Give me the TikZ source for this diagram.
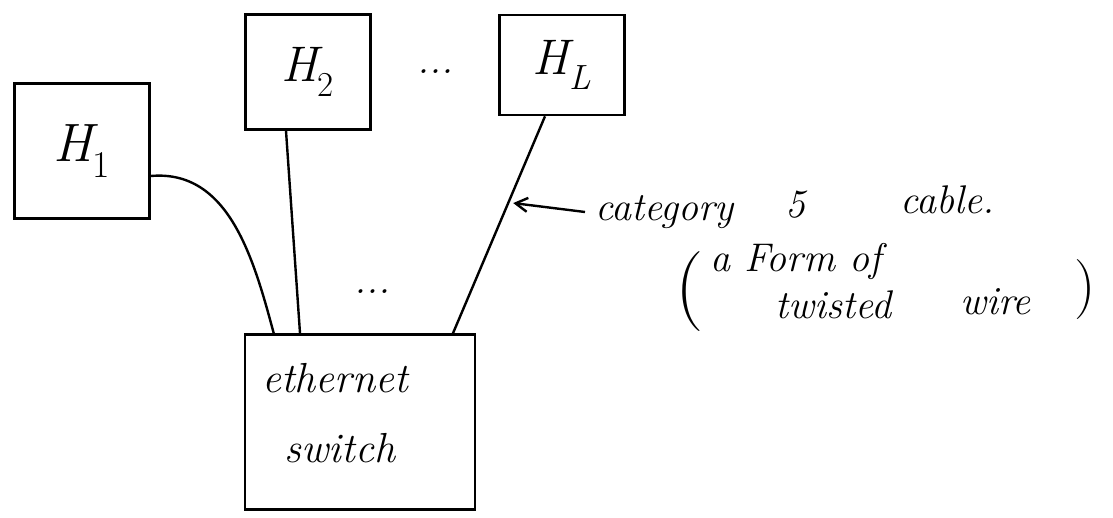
\documentclass[tikz,border=0pt]{standalone}
\usepackage{tikz}
\usetikzlibrary{arrows.meta,positioning}

\tikzset{
    host/.style={draw, line width=2.6pt, inner sep=0pt},
    wire/.style={line width=2.4pt},
    hand/.style={font=\fontsize{40}{44}\selectfont\itshape, inner sep=0pt}
}

\begin{document}
\begin{tikzpicture}[x=1pt, y=-1pt]
    \useasboundingbox (0, 0) rectangle (1113, 518);

    \node[host, minimum width=135pt, minimum height=135pt, font=\fontsize{54}{60}\selectfont\itshape] (h1) at (82, 151) {H\textsubscript{\upshape 1}};
    \node[host, minimum width=125pt, minimum height=115pt, font=\fontsize{50}{56}\selectfont\itshape] (h2) at (308, 72) {H\textsubscript{\upshape 2}};
    \node[host, minimum width=125pt, minimum height=100pt, font=\fontsize{50}{56}\selectfont\itshape] (hl) at (562, 65) {H\textsubscript{L}};
    \node[hand] (hdots) at (435, 72) {...};
    \node[host, minimum width=230pt, minimum height=175pt] (sw) at (360, 422) {};
    \node[hand, font=\fontsize{42}{46}\selectfont\itshape] (swa) at (335, 378) {ethernet};
    \node[hand, font=\fontsize{42}{46}\selectfont\itshape] (swb) at (340, 448) {switch};
    \node[hand] (ldots) at (372, 292) {...};

    \draw[wire]
    ([yshift=-25pt]h1.east) to[out=5, in=105] ([xshift=30pt]sw.north west)
    ([xshift=-22pt]h2.south) -- ([xshift=-60pt]sw.north)
    ([xshift=-17pt]hl.south) -- coordinate[pos=0.4] (cab) ([xshift=93pt]sw.north);

    % note on the cable
    \node[hand, anchor=west] (cat) at (595, 212) {category};
    \node[hand] (five) at (795, 205) {5};
    \node[hand, anchor=west] (cable) at (900, 200) {cable.};
    \node[hand, font=\fontsize{80}{80}\selectfont] (lpar) at (690, 292) {(};
    \node[hand, anchor=west] (form) at (710, 262) {a Form of};
    \node[hand, anchor=west] (twist) at (775, 305) {twisted};
    \node[hand, anchor=west] (wire) at (960, 302) {wire};
    \node[hand, font=\fontsize{60}{60}\selectfont] (rpar) at (1085, 290) {)};

    \draw[wire, -{Straight Barb[length=12pt, width=14pt]}] ([xshift=-10pt]cat.west) -- ([xshift=5pt]cab);
\end{tikzpicture}
\end{document}
